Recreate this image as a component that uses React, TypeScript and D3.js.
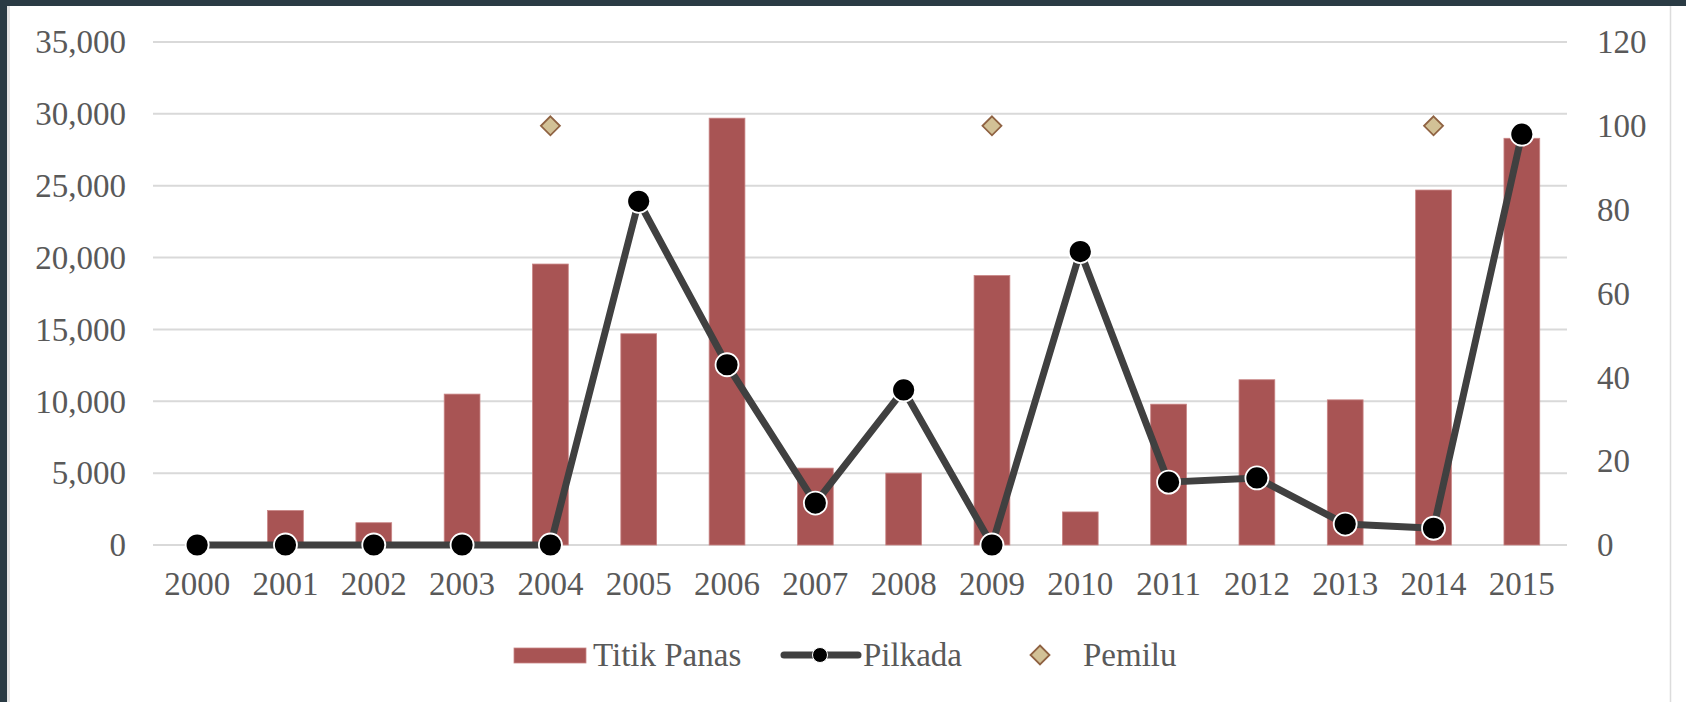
import React from 'react';
import * as d3 from 'd3';

const years = ['2000', '2001', '2002', '2003', '2004', '2005', '2006', '2007', '2008', '2009', '2010', '2011', '2012', '2013', '2014', '2015'];
const titikPanas = [0, 2400, 1550, 10500, 19550, 14700, 29700, 5350, 5000, 18750, 2300, 9800, 11500, 10100, 24700, 28300];
const pilkada = [0, 0, 0, 0, 0, 82, 43, 10, 37, 0, 70, 15, 16, 5, 4, 98];
const pemilu: (number | null)[] = [null, null, null, null, 100, null, null, null, null, 100, null, null, null, null, 100, null];
const leftTicks = [0, 5000, 10000, 15000, 20000, 25000, 30000, 35000];
const rightTicks = [0, 20, 40, 60, 80, 100, 120];

const W = 1686;
const H = 702;
const plot = { left: 153, right: 1566, top: 42, bottom: 545 };
const font = '"Liberation Serif", "Times New Roman", serif';
const textColor = '#595959';
const barColor = '#a85454';
const lineColor = '#404040';

const diamond = (cx: number, cy: number, r: number) =>
  `M${cx},${cy - r}L${cx + r},${cy}L${cx},${cy + r}L${cx - r},${cy}Z`;

const App: React.FC = () => {
  const x = d3.scaleBand<string>().domain(years).range([plot.left, plot.right]).padding(0);
  const yLeft = d3.scaleLinear().domain([0, 35000]).range([plot.bottom, plot.top]);
  const yRight = d3.scaleLinear().domain([0, 120]).range([plot.bottom, plot.top]);
  const fmt = d3.format(',');
  const barW = x.bandwidth() * 0.405;
  const cx = (y: string) => (x(y) || 0) + x.bandwidth() / 2;

  const line = d3.line<number>()
    .x((_, i) => cx(years[i]))
    .y((d) => yRight(d));

  return (
    <svg width={W} height={H} style={{ position: 'absolute', left: 0, top: 0, background: '#fff' }}>
      {/* frame */}
      <rect x={0} y={0} width={W} height={6} fill="#2a3b44" />
      <rect x={0} y={0} width={7} height={H} fill="#2a3b44" />
      <rect x={7} y={6} width={3} height={H - 6} fill="#e4e4e4" />
      <line x1={1670.5} x2={1670.5} y1={6} y2={H} stroke="#dcdcdc" strokeWidth={1.5} />

      {/* gridlines */}
      {leftTicks.map((t) => (
        <line key={t} x1={plot.left} x2={plot.right + 1} y1={yLeft(t)} y2={yLeft(t)} stroke="#d9d9d9" strokeWidth={2} />
      ))}

      {/* left axis labels */}
      {leftTicks.map((t) => (
        <text key={t} x={126} y={yLeft(t)} dy="0.34em" textAnchor="end" fontFamily={font} fontSize={33} fill={textColor}>
          {fmt(t)}
        </text>
      ))}

      {/* right axis labels */}
      {rightTicks.map((t) => (
        <text key={t} x={1597} y={yRight(t)} dy="0.34em" textAnchor="start" fontFamily={font} fontSize={33} fill={textColor}>
          {t}
        </text>
      ))}

      {/* x labels */}
      {years.map((y) => (
        <text key={y} x={cx(y)} y={595} textAnchor="middle" fontFamily={font} fontSize={33} fill={textColor}>
          {y}
        </text>
      ))}

      {/* bars */}
      {titikPanas.map((v, i) => (
        <rect
          key={years[i]}
          x={cx(years[i]) - barW / 2}
          y={yLeft(v)}
          width={barW}
          height={plot.bottom - yLeft(v)}
          fill={barColor}
          stroke="#c98585"
          strokeWidth={v > 0 ? 0.8 : 0}
        />
      ))}

      {/* pilkada line */}
      <path d={line(pilkada) || ''} fill="none" stroke={lineColor} strokeWidth={7} strokeLinejoin="round" />
      {pilkada.map((v, i) => (
        <circle key={years[i]} cx={cx(years[i])} cy={yRight(v)} r={11.5} fill="#000" stroke="#fff" strokeWidth={1.8} />
      ))}

      {/* pemilu markers */}
      {pemilu.map((v, i) =>
        v == null ? null : (
          <path key={years[i]} d={diamond(cx(years[i]), yRight(v), 9.5)} fill="#d2c196" stroke="#8f6242" strokeWidth={1.8} />
        )
      )}

      {/* legend */}
      <g fontFamily={font} fontSize={33} fill={textColor}>
        <rect x={514} y={648} width={72} height={15} fill={barColor} stroke="#c98585" strokeWidth={0.8} />
        <text x={593} y={666}>Titik Panas</text>
        <line x1={784} x2={858} y1={655} y2={655} stroke={lineColor} strokeWidth={7} strokeLinecap="round" />
        <circle cx={820} cy={655} r={7.5} fill="#000" stroke="#fff" strokeWidth={1} />
        <text x={863} y={666}>Pilkada</text>
        <path d={diamond(1040, 655, 9.5)} fill="#d2c196" stroke="#8f6242" strokeWidth={1.8} />
        <text x={1083} y={666}>Pemilu</text>
      </g>
    </svg>
  );
};

export default App;
